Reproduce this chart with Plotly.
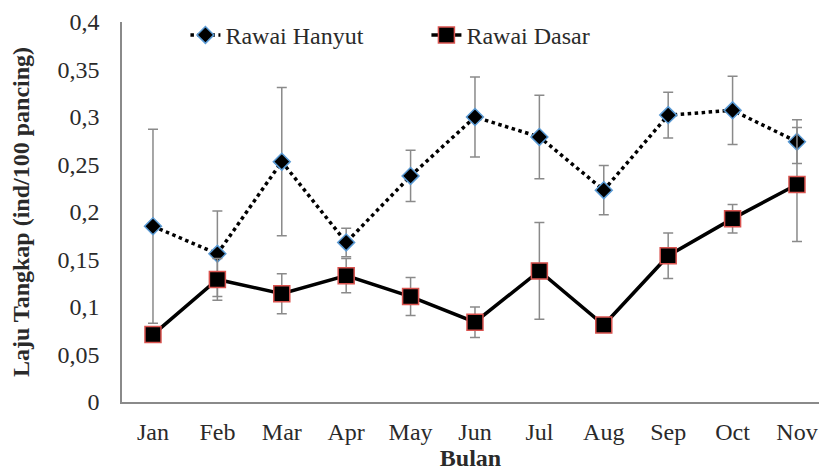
import plotly.graph_objects as go

months = ["Jan", "Feb", "Mar", "Apr", "May", "Jun", "Jul", "Aug", "Sep", "Oct", "Nov"]
hanyut = [0.185, 0.156, 0.253, 0.168, 0.238, 0.300, 0.279, 0.223, 0.302, 0.307, 0.274]
hanyut_err = [0.102, 0.045, 0.078, 0.015, 0.027, 0.042, 0.044, 0.026, 0.024, 0.036, 0.023]
dasar = [0.071, 0.129, 0.114, 0.133, 0.111, 0.084, 0.138, 0.081, 0.154, 0.193, 0.229]
dasar_err = [0.0, 0.022, 0.021, 0.018, 0.020, 0.016, 0.051, 0.0, 0.024, 0.015, 0.060]
ytick_vals = [0, 0.05, 0.1, 0.15, 0.2, 0.25, 0.3, 0.35, 0.4]
ytick_text = ["0", "0,05", "0,1", "0,15", "0,2", "0,25", "0,3", "0,35", "0,4"]

font = "Liberation Serif, Times New Roman, serif"
txt = "#2a2a2a"
fig = go.Figure()
fig.add_trace(go.Scatter(
    x=months, y=hanyut, name="Rawai Hanyut", mode="lines+markers",
    line=dict(color="black", width=3.5, dash="dot"),
    marker=dict(symbol="diamond", size=13, color="black", line=dict(color="#5b9bd5", width=1.5)),
    error_y=dict(type="data", array=hanyut_err, visible=True, color="#8a8a8a", thickness=1.5, width=5),
))
fig.add_trace(go.Scatter(
    x=months, y=dasar, name="Rawai Dasar", mode="lines+markers",
    line=dict(color="black", width=3.5),
    marker=dict(symbol="square", size=16, color="black", line=dict(color="#d9534f", width=1.5)),
    error_y=dict(type="data", array=dasar_err, visible=True, color="#8a8a8a", thickness=1.5, width=5),
))
# page body has an 8px margin, so the figure is sized/offset to compensate
fig.update_layout(
    width=819, height=465,
    margin=dict(l=114, r=8, t=14, b=71, autoexpand=False),
    paper_bgcolor="white", plot_bgcolor="white",
    font=dict(family=font, size=24, color=txt),
    showlegend=True,
    legend=dict(orientation="h", x=0.091, y=0.965, xanchor="left", yanchor="middle",
                font=dict(family=font, size=24, color=txt), bgcolor="rgba(0,0,0,0)",
                entrywidth=196, entrywidthmode="pixels", tracegroupgap=0),
)
fig.update_xaxes(range=[-0.481, 10.342], showline=True, linecolor="#8a8a8a", linewidth=1.5, showgrid=False,
                 automargin=False, ticks="", ticklabelstandoff=7, ticklabeloverflow="allow",
                 tickfont=dict(family=font, size=24, color=txt),
                 title=dict(text="<b>Bulan</b>", font=dict(family=font, size=24, color=txt), standoff=6))
fig.update_yaxes(range=[0, 0.4], showline=True, linecolor="#8a8a8a", linewidth=1.5, showgrid=False,
                 zeroline=False, ticks="", tickvals=ytick_vals, ticktext=ytick_text, automargin=False,
                 ticklabelstandoff=16, tickfont=dict(family=font, size=24, color=txt),
                 title=dict(text="<b>Laju Tangkap (ind/100 pancing)</b>", font=dict(family=font, size=24, color=txt), standoff=24))
fig.write_html("out.html")
